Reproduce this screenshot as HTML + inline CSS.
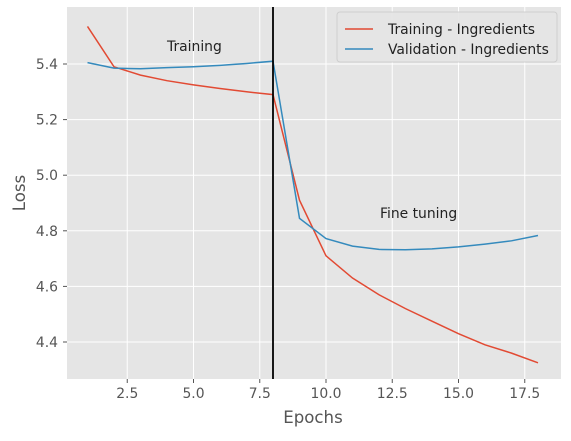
<!DOCTYPE html>
<html><head><meta charset="utf-8"><style>
body{margin:0;background:#fff;}
svg text{font-family:"DejaVu Sans","Liberation Sans",sans-serif;}
</style></head><body>
<svg id="chart" width="571" height="436" viewBox="0 0 571 436">
<rect x="67" y="7" width="494" height="372" fill="#e5e5e5"/>
<g id="grid"></g>
<g id="ticks"></g>
<g id="series"></g>
<text x="167" y="51" font-size="13.9" fill="#222">Training</text>
<text x="380" y="218" font-size="13.9" fill="#222">Fine tuning</text>
<text x="313" y="423" font-size="16.6" fill="#555" text-anchor="middle">Epochs</text>
<text x="25" y="193" font-size="16.6" fill="#555" text-anchor="middle" transform="rotate(-90 25 193)">Loss</text>
<g>
<rect x="337" y="12" width="220" height="50" rx="3" fill="#e5e5e5" stroke="#ccc" opacity="0.9"/>
<line x1="345" y1="29" x2="373" y2="29" stroke="#E24A33" stroke-width="1.5"/>
<text x="388" y="34" font-size="13.9" fill="#222">Training - Ingredients</text>
<line x1="345" y1="49" x2="373" y2="49" stroke="#348ABD" stroke-width="1.5"/>
<text x="388" y="54" font-size="13.9" fill="#222">Validation - Ingredients</text>
</g>
</svg>
<script>
const epochs=[1,2,3,4,5,6,7,8,9,10,11,12,13,14,15,16,17,18];
const trainLoss=[5.535,5.39,5.36,5.34,5.325,5.312,5.30,5.29,4.91,4.71,4.63,4.57,4.52,4.475,4.43,4.39,4.36,4.325];
const valLoss=[5.405,5.385,5.383,5.387,5.39,5.395,5.402,5.41,4.845,4.772,4.745,4.733,4.732,4.735,4.742,4.752,4.764,4.783];
const xTicks=[2.5,5.0,7.5,10.0,12.5,15.0,17.5];
const yTicks=[4.4,4.6,4.8,5.0,5.2,5.4];
const splitEpoch=8;
const X=v=>87.5+(v-1)*26.5;
const Y=v=>64+(5.4-v)*278;
const NS="http://www.w3.org/2000/svg";
function mk(tag,attrs,parent){const e=document.createElementNS(NS,tag);for(const k in attrs)e.setAttribute(k,attrs[k]);parent.appendChild(e);return e;}
const grid=document.getElementById('grid'),ticks=document.getElementById('ticks'),series=document.getElementById('series');
xTicks.forEach(t=>{
 const l=mk('line',{x1:X(t),x2:X(t),y1:7,y2:379,stroke:'#fff','stroke-width':1},grid);
 
 
 mk('line',{x1:X(t),x2:X(t),y1:379,y2:383,stroke:'#555'},ticks);
 const tx=mk('text',{x:X(t),y:398,'font-size':13.9,fill:'#555','text-anchor':'middle'},ticks);
 tx.textContent=t.toFixed(1);
 
 
});
yTicks.forEach(t=>{
 const l=mk('line',{x1:67,x2:561,y1:Y(t),y2:Y(t),stroke:'#fff','stroke-width':1},grid);
 
 
 mk('line',{x1:63,x2:67,y1:Y(t),y2:Y(t),stroke:'#555'},ticks);
 const tx=mk('text',{x:58,y:Y(t)+5,'font-size':13.9,fill:'#555','text-anchor':'end'},ticks);
 tx.textContent=t.toFixed(1);
 
 
});
function line(vals,color,name){
 const p=mk('polyline',{points:epochs.map((e,i)=>X(e)+','+Y(vals[i])).join(' '),fill:'none',stroke:color,'stroke-width':1.5},series);
 
 
}
line(trainLoss,'#E24A33','training-line');
line(valLoss,'#348ABD','validation-line');
const v=mk('line',{x1:X(splitEpoch),x2:X(splitEpoch),y1:7,y2:379,stroke:'#000','stroke-width':1.8},series);


</script>
</body></html>
